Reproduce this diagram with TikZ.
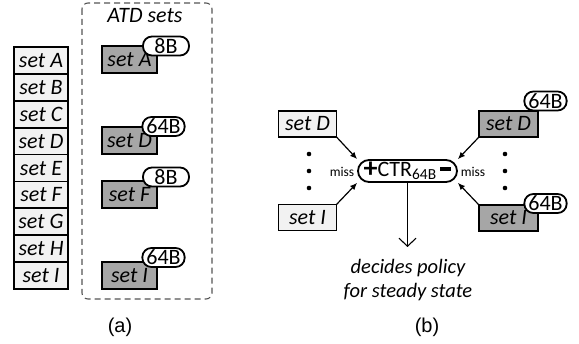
\documentclass[tikz,border=0pt]{standalone}
\usepackage{fontspec}
\setmainfont{Carlito}
\newfontfamily\arialfont{Liberation Sans}
\usetikzlibrary{arrows.meta, positioning}
\definecolor{setfill}{HTML}{F2F2F2}
\definecolor{atdfill}{HTML}{A6A6A6}
\definecolor{dashgray}{HTML}{555555}

\begin{document}
\begin{tikzpicture}[
    x=1pt, y=-1pt,
    setbox/.style={rectangle, draw, line width=1.8pt, fill=setfill, outer sep=0pt,
      minimum width=54pt, minimum height=26.9pt, inner sep=0pt,
      font=\fontsize{22}{24}\selectfont\itshape},
    atdbox/.style={setbox, fill=atdfill, minimum width=55pt, minimum height=27pt},
    tagbox/.style={rectangle, rounded corners=9pt, draw, line width=1.8pt, fill=white,
      minimum height=19pt, inner xsep=4pt, inner ysep=0pt, font=\fontsize{22}{24}\selectfont},
    ctrbox/.style={rectangle, rounded corners=11pt, draw, line width=1.8pt, fill=white,
      minimum width=99pt, minimum height=22pt, inner sep=0pt, font=\fontsize{22}{24}\selectfont},
    missnode/.style={font=\fontsize{13.5}{15}\selectfont},
    arrow/.style={line width=1.2pt, -{Latex[length=7pt, width=6pt]}},
    caption/.style={font=\arialfont\fontsize{20}{24}\selectfont}
  ]
  \useasboundingbox (0,0) rectangle (579,344);

  % (a) all sets of the cache
  \node[setbox] (setA) at (41,60.45) {set A};
  \node[setbox, below=0pt of setA] (setB) {set B};
  \node[setbox, below=0pt of setB] (setC) {set C};
  \node[setbox, below=0pt of setC] (setD) {set D};
  \node[setbox, below=0pt of setD] (setE) {set E};
  \node[setbox, below=0pt of setE] (setF) {set F};
  \node[setbox, below=0pt of setF] (setG) {set G};
  \node[setbox, below=0pt of setG] (setH) {set H};
  \node[setbox, below=0pt of setH] (setI) {set I};

  % sampled ATD sets
  \draw[dashgray, line width=1.1pt, dash pattern=on 6pt off 4pt, rounded corners=6pt]
    (82,3) rectangle (212,299);
  \node[font=\fontsize{22}{24}\selectfont\itshape] (atdtitle) at (145,16) {ATD sets};

  \node[atdbox] (atdA) at (129.5,59.5) {set A};
  \node[atdbox] (atdD) at (129.5,140.5) {set D};
  \node[atdbox] (atdF) at (129.5,194.5) {set F};
  \node[atdbox] (atdI) at (129.5,275.5) {set I};

  \node[tagbox, minimum width=46pt] (tagA) at (166,46) {8B};
  \node[tagbox] (tagD) at (163.5,126.5) {64B};
  \node[tagbox, minimum width=46pt] (tagF) at (166,177) {8B};
  \node[tagbox] (tagI) at (163.5,257.5) {64B};

  \node[caption] (capa) at (120,327) {(a)};

  % (b) set dueling counter
  \node[setbox, minimum width=58pt, minimum height=26pt] (leftD) at (307.5,124) {set D};
  \node[setbox, minimum width=58pt, minimum height=26pt] (leftI) at (307.5,217.5) {set I};
  \node[atdbox, minimum width=59pt, minimum height=26pt] (rightD) at (508.5,124) {set D};
  \node[atdbox, minimum width=59pt, minimum height=26pt] (rightI) at (508.5,218) {set I};
  \node[tagbox] (tagrD) at (545.5,101) {64B};
  \node[tagbox] (tagrI) at (545.5,203.5) {64B};

  % vertical dots between the sets
  \fill (309,154) circle (2.3pt) (309,171) circle (2.3pt) (309,188) circle (2.3pt);
  \fill (505,154) circle (2.3pt) (505,171) circle (2.3pt) (505,188) circle (2.3pt);

  \node[ctrbox] (ctr) at (407.5,171)
    {\raisebox{-1pt}{\textbf{\fontsize{28}{28}\selectfont+}}CTR\textsubscript{64B}\,\rule[6pt]{11pt}{3.2pt}};
  \node[missnode] (missL) at (342,172) {miss};
  \node[missnode] (missR) at (473,172) {miss};

  \draw[arrow] (leftD.south east) -- (ctr.north west);
  \draw[arrow] (leftI.north east) -- (ctr.south west);
  \draw[arrow] (rightD.south west) -- (ctr.north east);
  \draw[arrow] (rightI.north west) -- (ctr.south east);

  % outcome of the counter
  \coordinate (tip) at (407.5,247);
  \draw[line width=1.1pt, -{Straight Barb[length=8pt, width=17pt]}] (ctr.south) -- (tip);
  \node[font=\fontsize{20.5}{24}\selectfont\itshape, align=center] (policy) at (408,280)
    {decides policy\\for steady state};

  \node[caption] (capb) at (427,327) {(b)};
\end{tikzpicture}
\end{document}
